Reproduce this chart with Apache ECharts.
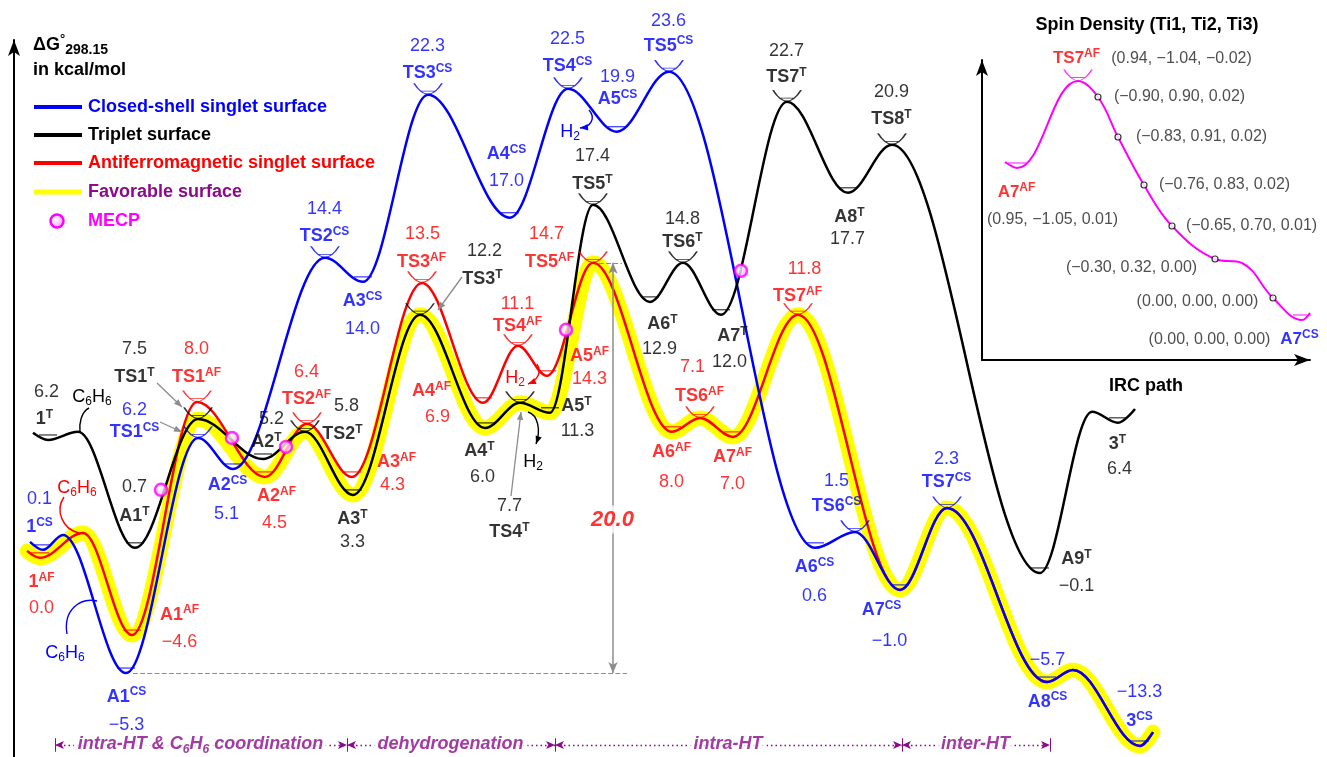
<!DOCTYPE html>
<html>
<head>
<meta charset="utf-8">
<script src="https://cdn.jsdelivr.net/npm/echarts@6/dist/echarts.min.js"></script>
<style>
html, body { margin: 0; padding: 0; background: #fff; }
#chart { width: 1327px; height: 757px; }
</style>
</head>
<body>
<div id="chart"></div>
<script>
var chart = echarts.init(document.getElementById('chart'));

var BLUE = '#0000ff', RED = '#ff0000', BLACK = '#000000', YELLOW = '#ffff00',
    PURPLE = '#8b0a8b', MAGENTA = '#ff00ff', GRAY = '#8c8c8c', DARK = '#222222';
var FONT = '"Liberation Sans", Arial, Helvetica, sans-serif';

// ---- stationary points: position on the reaction coordinate, level as drawn, dG label
// ids starting with '~' are unlabelled bends of a curve
var csId = ['~s', '1', '~b1', 'A1', 'TS1', 'A2', 'TS2', 'A3', 'TS3', 'A4', 'TS4', 'A5', 'TS5', 'A6', 'TS6', 'A7', 'TS7', 'A8', '~b8', '3', '~e'];
var csX = [1.6, 2.9, 4.9, 11.2, 18.4, 21.9, 31.1, 34.9, 41.4, 49.6, 55.4, 60.3, 65.5, 80.1, 84.1, 88.6, 93.3, 103.3, 105.9, 112.6, 113.9];
var csLevel = [0.53, 0.14, 0.87, -5.89, 5.62, 4.10, 14.44, 13.26, 22.42, 16.40, 22.71, 20.61, 23.55, 0.24, 1.02, -1.82, 2.19, -6.33, -5.74, -9.46, -8.78];
var csG = ['', '0.1', '', '\u22125.3', '6.2', '5.1', '14.4', '14.0', '22.3', '17.0', '22.5', '19.9', '23.6', '0.6', '1.5', '\u22121.0', '2.3', '\u22125.7', '', '\u221213.3', ''];

var afId = ['~s', '1', '~b1', 'A1', 'TS1', 'A2', 'TS2', 'A3', 'TS3', 'A4', 'TS4', 'A5', 'TS5', 'A6', 'TS6', 'A7', 'TS7'];
var afX = [1.3, 2.6, 6.9, 11.8, 18.3, 25.1, 29.3, 33.8, 40.8, 46.9, 50.4, 53.3, 57.9, 65.8, 68.6, 71.9, 78.4];
var afLevel = [0.09, -0.25, 0.97, -4.03, 7.38, 3.71, 6.31, 3.71, 13.21, 7.34, 10.13, 8.66, 14.19, 5.92, 6.60, 5.67, 11.65];
var afG = ['', '0.0', '', '\u22124.6', '8.0', '4.5', '6.4', '4.3', '13.5', '6.9', '11.1', '14.3', '14.7', '8.0', '7.1', '7.0', '11.8'];
var afJoinsAt = 'A7';   // the AF curve runs down into A7CS and follows the CS surface from there

var tId = ['~s', '1', '~b1', 'A1', 'TS1', 'A2', 'TS2', 'A3', 'TS3', 'A4', 'TS4', 'A5', 'TS5', 'A6', 'TS6', 'A7', 'TS7', 'A8', 'TS8', 'A9', '~b9', '3', '~e'];
var tX = [1.9, 3.4, 6.4, 12.1, 18.4, 24.9, 29.1, 33.9, 40.6, 47.1, 50.6, 53.6, 57.9, 63.6, 66.9, 70.7, 77.3, 83.4, 87.8, 102.6, 107.8, 110.4, 112.1];
var tLevel = [5.87, 5.52, 5.92, 0.24, 6.55, 4.59, 5.92, 2.83, 11.65, 6.11, 7.34, 6.85, 17.03, 12.28, 14.19, 11.65, 22.08, 17.62, 19.97, -0.99, 6.90, 6.36, 7.04];
var tG = ['', '6.2', '', '0.7', '7.5', '5.2', '5.8', '3.3', '12.2', '6.0', '7.7', '11.3', '17.4', '12.9', '14.8', '12.0', '22.7', '17.7', '20.9', '\u22120.1', '', '6.4', ''];

// favorable surface, as a walk over the points above
var favorable = ['AF:~s', 'AF:1', 'AF:~b1', 'AF:A1', 'T:TS1', 'AF:A2', 'T:TS2', 'T:A3', 'T:TS3', 'T:A4', 'T:TS4', 'T:A5',
                 'AF:TS5', 'AF:A6', 'AF:TS6', 'AF:A7', 'AF:TS7', 'CS:A7', 'CS:TS7', 'CS:A8', 'CS:~b8', 'CS:3', 'CS:~e'];

// minimum energy crossing points
var mecpX = [14.7, 21.8, 27.2, 55.2, 72.7];
var mecpLevel = [3.08, 5.62, 5.18, 10.91, 13.80];

// barrier between A1CS and TS5AF
var barrierX = 59.9;
var barrierText = '20.0';

// phases along the bottom
var phaseBounds = [4.1, 33.3, 54.1, 88.8, 103.6];
var phaseNames = ['intra-HT & C6H6 coordination', 'dehydrogenation', 'intra-HT', 'inter-HT'];

// inset: IRC from A7AF to A7CS with spin densities
var ircId = ['~s', 'A7', 'TS7', 'p1', 'p2', 'p3', 'p4', 'p5', '~sh', 'p6', 'A7', '~e'];
var ircSup = ['', 'AF', 'AF', '', '', '', '', '', '', '', 'CS', ''];
var ircX = [2.3, 3.5, 9.6, 11.6, 13.6, 16.2, 19.0, 23.3, 26.0, 29.1, 32.0, 32.8];
var ircLevel = [19.8, 19.2, 27.9, 26.3, 22.3, 17.5, 13.4, 10.1, 9.7, 6.2, 4.0, 4.7];
var ircSpin = ['', '(0.95, \u22121.05, 0.01)', '(0.94, \u22121.04, \u22120.02)', '(\u22120.90, 0.90, 0.02)',
               '(\u22120.83, 0.91, 0.02)', '(\u22120.76, 0.83, 0.02)', '(\u22120.65, 0.70, 0.01)',
               '(\u22120.30, 0.32, 0.00)', '', '(0.00, 0.00, 0.00)', '(0.00, 0.00, 0.00)', ''];

// ---- label layout (pixel offsets: name dx, dy, value dx, dy)
var labelOffset = {
    'CS:1': [-3, -22, -3, -50], 'CS:A1': [1, 24, 1, 52], 'CS:TS1': [-63, -5, -63, -27], 'CS:A2': [-5, 17, -6, 46],
    'CS:TS2': [0, -21, 0, -48], 'CS:A3': [0, 20, 0, 48], 'CS:TS3': [0, -21, 0, -48], 'CS:A4': [-3, -63, -3, -36],
    'CS:TS4': [0, -22, 0, -49], 'CS:A5': [1, -32, 1, -54], 'CS:TS5': [0, -25, 0, -50], 'CS:A6': [0, 20, 0, 49],
    'CS:TS6': [-18, -25, -18, -50], 'CS:A7': [-18, 21, -10, 52], 'CS:TS7': [0, -25, 0, -48], 'CS:A8': [1, 20, 1, -22],
    'CS:3': [0, -24, 0, -53],
    'AF:1': [2, 25, 2, 51], 'AF:A1': [48, -20, 48, 7], 'AF:TS1': [0, -24, 0, -52], 'AF:A2': [12, 20, 10, 47],
    'AF:TS2': [0, -24, 0, -51], 'AF:A3': [45, -14, 41, 9], 'AF:TS3': [0, -20, 1, -48], 'AF:A4': [-51, -11, -45, 15],
    'AF:TS4': [0, -19, 0, -41], 'AF:A5': [43, -19, 43, 4], 'AF:TS5': [-43, 0, -46, -28], 'AF:A6': [0, 21, 0, 51],
    'AF:TS6': [0, -21, -7, -50], 'AF:A7': [0, 21, 0, 48], 'AF:TS7': [0, -18, 7, -45],
    'T:1': [-3, -20, -1, -47], 'T:A1': [0, -31, 0, -60], 'T:TS1': [-63, -41, -63, -69], 'T:A2': [4, -16, 9, -39],
    'T:TS2': [38, 3, 42, -25], 'T:A3': [0, 25, 0, 48], 'T:TS3': [63, -35, 65, -63], 'T:A4': [-5, 24, -2, 50],
    'T:TS4': [-10, 130, -10, 104], 'T:A5': [27, -6, 28, 19], 'T:TS5': [0, -20, 0, -48], 'T:A6': [13, 23, 10, 48],
    'T:TS6': [0, -20, 0, -43], 'T:A7': [12, 22, 9, 48], 'T:TS7': [0, -24, 0, -50], 'T:A8': [2, 25, 0, 47],
    'T:TS8': [0, -25, 0, -52], 'T:A9': [37, -13, 37, 14], 'T:3': [0, 22, 2, 47]
};
var ircOffset = {
    'A7AF': [0, 25, 36, 52], 'TS7AF': [-1, -22, 104, -22], 'p1': [0, 0, 82, 0], 'p2': [0, 0, 84, 0],
    'p3': [0, 0, 81, 0], 'p4': [0, 0, 80, 0], 'p5': [0, 0, -83, 9], 'p6': [0, 0, -75, 4], 'A7CS': [-2, 20, -92, 20]
};

var surfaces = {
    CS: {sup: 'CS', color: BLUE, id: csId, x: csX, level: csLevel, g: csG},
    AF: {sup: 'AF', color: RED, id: afId, x: afX, level: afLevel, g: afG},
    T: {sup: 'T', color: BLACK, id: tId, x: tX, level: tLevel, g: tG}
};

function pt(key, id) {
    var S = surfaces[key], i = S.id.indexOf(id);
    return [S.x[i], S.level[i]];
}

function curveData(key) {
    var S = surfaces[key];
    var data = S.x.map(function (x, i) { return [x, S.level[i]]; });
    if (key === 'AF') {
        var from = csId.indexOf(afJoinsAt);
        for (var i = from; i < csX.length; i++) data.push([csX[i], csLevel[i]]);
    }
    return data;
}

var BOWL = 'path://M0,0 Q14,22 28,0 M7,8 L21,8';

function markItem(p, isTS, color) {
    if (isTS) {
        return {value: p, symbol: BOWL, symbolSize: [28, 11], symbolOffset: [0, -6],
            itemStyle: {color: 'rgba(0,0,0,0)', borderColor: color, borderWidth: 1.2}};
    }
    return {value: p, symbol: 'rect', symbolSize: [18, 1.2], symbolOffset: [0, -5],
        itemStyle: {color: color, borderWidth: 0}};
}

function nameRich(color, size) {
    return {
        n: {fontFamily: FONT, fontWeight: 'bold', fontSize: size, color: color, lineHeight: 22},
        s: {fontFamily: FONT, fontWeight: 'bold', fontSize: 12, color: color, lineHeight: 14, verticalAlign: 'top'}
    };
}

function labelSeries(points, label, axis) {
    return {
        type: 'scatter', xAxisIndex: axis || 0, yAxisIndex: axis || 0, silent: true, z: 10,
        symbolSize: 1, itemStyle: {color: 'rgba(0,0,0,0)'},
        label: Object.assign({show: true, position: [0, 0], align: 'center', verticalAlign: 'middle',
            textBorderWidth: 0}, label),
        data: points.map(function (p) {
            return {value: [p.x, p.y], label: {formatter: p.text, offset: p.offset}};
        })
    };
}

var series = [];

// favorable surface underlay
series.push({
    type: 'line', silent: true, z: 1, symbol: 'none', smooth: 0.35, smoothMonotone: 'x',
    data: favorable.map(function (k) { var s = k.split(':'); return pt(s[0], s[1]); }),
    lineStyle: {color: YELLOW, width: 15, cap: 'round', join: 'round'}
});

var curveZ = {AF: 3, CS: 3.1, T: 3.2};
['CS', 'AF', 'T'].forEach(function (key) {
    var S = surfaces[key];
    var names = [], values = [], marks = [];
    S.id.forEach(function (id, i) {
        if (id.charAt(0) === '~') return;
        var o = labelOffset[key + ':' + id];
        var p = [S.x[i], S.level[i]];
        names.push({x: p[0], y: p[1], text: '{n|' + id + '}{s|' + S.sup + '}', offset: [o[0], o[1]]});
        values.push({x: p[0], y: p[1], text: S.g[i], offset: [o[2], o[3]]});
        marks.push(markItem(p, id.indexOf('TS') === 0, S.color));
    });
    series.push({
        type: 'line', silent: true, z: curveZ[key], symbol: 'none', smooth: 0.35, smoothMonotone: 'x',
        data: curveData(key),
        lineStyle: {color: S.color, width: 2.5}
    });
    series.push({type: 'scatter', silent: true, z: 5, data: marks});
    series.push(labelSeries(names, {rich: nameRich(S.color, 18)}));
    series.push(labelSeries(values, {fontFamily: FONT, fontSize: 18, color: S.color}));
});

// MECP spheres
var mecpFill = new echarts.graphic.RadialGradient(0.4, 0.4, 0.6, [
    {offset: 0, color: '#ffffff'}, {offset: 1, color: '#ff9cff'}]);
series.push({
    type: 'scatter', silent: true, z: 8, symbol: 'circle', symbolSize: 12,
    data: mecpX.map(function (x, i) { return [x, mecpLevel[i]]; }),
    itemStyle: {color: mecpFill, borderColor: MAGENTA, borderWidth: 2.5}
});

// barrier arrow and dashed reference lines
var a1 = pt('CS', 'A1'), ts5 = pt('AF', 'TS5');
series.push({
    type: 'line', data: [], silent: true, z: 2,
    markLine: {
        silent: true, animation: false, symbol: ['none', 'none'], symbolSize: [7, 11],
        label: {show: false},
        lineStyle: {color: GRAY, width: 1.2, type: 'dashed'},
        data: [
            [{coord: [a1[0] + 0.7, a1[1]]}, {coord: [barrierX + 1.4, a1[1]]}],
            [{coord: [ts5[0] + 0.6, ts5[1]]}, {coord: [barrierX + 0.9, ts5[1]]}],
            [{coord: [barrierX, ts5[1]], symbol: 'arrow', lineStyle: {type: 'solid', width: 1.5, color: GRAY}},
             {coord: [barrierX, a1[1]], symbol: 'arrow'}]
        ]
    }
});
series.push(labelSeries([{x: barrierX, y: 1.6, text: barrierText, offset: [0, 0]}],
    {fontFamily: FONT, fontSize: 22, fontWeight: 'bold', fontStyle: 'italic', color: RED,
     backgroundColor: '#ffffff', padding: [3, 2]}));

// phases
var phaseY = -9.41;
var phaseLines = [];
for (var i = 0; i < phaseNames.length; i++) {
    phaseLines.push([{coord: [phaseBounds[i], phaseY], symbol: 'arrow'}, {coord: [phaseBounds[i + 1], phaseY], symbol: 'arrow'}]);
}
phaseBounds.forEach(function (b) {
    phaseLines.push([{coord: [b, phaseY + 0.33], symbol: 'none', lineStyle: {type: 'solid', width: 1}},
                     {coord: [b, phaseY - 0.33], symbol: 'none'}]);
});
series.push({
    type: 'line', data: [], silent: true, z: 2,
    markLine: {
        silent: true, animation: false, symbolSize: [6, 9], label: {show: false},
        lineStyle: {color: PURPLE, width: 1.4, type: [1.5, 3]},
        data: phaseLines
    }
});
series.push(labelSeries(phaseNames.map(function (t, i) {
    return {x: (phaseBounds[i] + phaseBounds[i + 1]) / 2, y: phaseY,
        text: '{p|' + t.replace(/([CH])(\d)/g, '$1}{q|$2}{p|') + '}', offset: [0, 0]};
}), {backgroundColor: '#ffffff', padding: [0, 4], rich: {
    p: {fontFamily: FONT, fontSize: 18, fontWeight: 'bold', fontStyle: 'italic', color: PURPLE, lineHeight: 22},
    q: {fontFamily: FONT, fontSize: 12, fontWeight: 'bold', fontStyle: 'italic', color: PURPLE, lineHeight: 12, verticalAlign: 'bottom'}
}}));

// inset curve
var ircMarks = [], ircNames = [], ircSpins = [];
ircId.forEach(function (id, i) {
    if (id.charAt(0) === '~') return;
    var p = [ircX[i], ircLevel[i]];
    var o = ircOffset[id + ircSup[i]];
    if (id.charAt(0) === 'p') {
        ircMarks.push({value: p, symbol: 'circle', symbolSize: 6,
            itemStyle: {color: '#ffffff', borderColor: BLACK, borderWidth: 1.2}});
    } else {
        ircMarks.push(markItem(p, id.indexOf('TS') === 0, MAGENTA));
        ircNames.push({x: p[0], y: p[1], text: '{n|' + id + '}{s|' + ircSup[i] + '}', offset: [o[0], o[1]], sup: ircSup[i]});
    }
    if (ircSpin[i]) ircSpins.push({x: p[0], y: p[1], text: ircSpin[i], offset: [o[2], o[3]]});
});
series.push({
    type: 'line', xAxisIndex: 1, yAxisIndex: 1, silent: true, z: 3, symbol: 'none', smooth: 0.4,
    data: ircX.map(function (x, i) { return [x, ircLevel[i]]; }),
    lineStyle: {color: MAGENTA, width: 2}
});
series.push({type: 'scatter', xAxisIndex: 1, yAxisIndex: 1, silent: true, z: 5, data: ircMarks});
series.push(labelSeries(ircNames.filter(function (p) { return p.sup === 'AF'; }), {rich: nameRich(RED, 17)}, 1));
series.push(labelSeries(ircNames.filter(function (p) { return p.sup === 'CS'; }), {rich: nameRich(BLUE, 17)}, 1));
series.push(labelSeries(ircSpins, {fontFamily: FONT, fontSize: 16, color: DARK}, 1));

// ---- annotations drawn on top
function txt(x, y, text, style, align, rich) {
    var st = Object.assign({text: text, align: align || 'left', verticalAlign: 'middle',
        textAlign: align || 'left', textVerticalAlign: 'middle', fontFamily: FONT}, style);
    if (rich) st.rich = rich;
    return {type: 'text', x: x, y: y, z: 100, silent: true, style: st};
}
function head(x, y, ang, color) {
    var L = 8, W = 3.2;
    var bx = x - L * Math.cos(ang), by = y - L * Math.sin(ang);
    var px = -Math.sin(ang) * W, py = Math.cos(ang) * W;
    return {type: 'polygon', z: 100, silent: true, shape: {points: [[x, y], [bx + px, by + py], [bx - px, by - py]]}, style: {fill: color}};
}
function straightArrow(x1, y1, x2, y2, color) {
    return [
        {type: 'line', z: 100, silent: true, shape: {x1: x1, y1: y1, x2: x2, y2: y2}, style: {stroke: color, lineWidth: 1.3}},
        head(x2, y2, Math.atan2(y2 - y1, x2 - x1), color)
    ];
}
function curve(c, color, withHead) {
    var out = [{type: 'bezierCurve', z: 100, silent: true,
        shape: {x1: c[0], y1: c[1], cpx1: c[2], cpy1: c[3], cpx2: c[4], cpy2: c[5], x2: c[6], y2: c[7]},
        style: {stroke: color, lineWidth: 1.4, fill: null}}];
    if (withHead) out.push(head(c[6], c[7], Math.atan2(c[7] - c[5], c[6] - c[4]), color));
    return out;
}
function formulaRich(color) {
    return {
        t: {fontFamily: FONT, fontSize: 18, fill: color, lineHeight: 22},
        d: {fontFamily: FONT, fontSize: 12, fill: color, lineHeight: 12, verticalAlign: 'bottom'}
    };
}

var graphics = [];
graphics.push(txt(33, 45, '{b|\u0394G}{o|\u00b0}{u|298.15}', {}, 'left', {
    b: {fontFamily: FONT, fontWeight: 'bold', fontSize: 18, fill: BLACK, lineHeight: 24},
    o: {fontFamily: FONT, fontWeight: 'bold', fontSize: 13, fill: BLACK, lineHeight: 12, verticalAlign: 'top'},
    u: {fontFamily: FONT, fontWeight: 'bold', fontSize: 14, fill: BLACK, lineHeight: 14, verticalAlign: 'bottom'}
}));
graphics.push(txt(33, 70, 'in kcal/mol', {fontWeight: 'bold', fontSize: 18, fill: BLACK}));

var legendRows = [
    ['Closed-shell singlet surface', BLUE, BLUE, 107],
    ['Triplet surface', BLACK, BLACK, 135],
    ['Antiferromagnetic singlet surface', RED, RED, 163],
    ['Favorable surface', YELLOW, PURPLE, 192]
];
legendRows.forEach(function (r) {
    graphics.push({type: 'line', z: 100, silent: true, shape: {x1: 34, y1: r[3], x2: 82, y2: r[3]},
        style: {stroke: r[1], lineWidth: r[1] === YELLOW ? 5 : 4}});
    graphics.push(txt(88, r[3], r[0], {fontWeight: 'bold', fontSize: 18, fill: r[2]}));
});
graphics.push({type: 'circle', z: 100, silent: true, shape: {cx: 57, cy: 221, r: 6.5},
    style: {fill: mecpFill, stroke: MAGENTA, lineWidth: 2.5}});
graphics.push(txt(88, 221, 'MECP', {fontWeight: 'bold', fontSize: 18, fill: MAGENTA}));

graphics.push(txt(1147, 25, 'Spin Density (Ti1, Ti2, Ti3)', {fontWeight: 'bold', fontSize: 18, fill: BLACK}, 'center'));

// C6H6 and H2 notes
graphics.push(txt(92, 397, '{t|C}{d|6}{t|H}{d|6}', {}, 'center', formulaRich(BLACK)));
graphics.push(txt(77, 488, '{t|C}{d|6}{t|H}{d|6}', {}, 'center', formulaRich(RED)));
graphics.push(txt(65, 653, '{t|C}{d|6}{t|H}{d|6}', {}, 'center', formulaRich(BLUE)));
graphics.push(txt(570, 132, '{t|H}{d|2}', {}, 'center', formulaRich(BLUE)));
graphics.push(txt(515, 378, '{t|H}{d|2}', {}, 'center', formulaRich(RED)));
graphics.push(txt(533, 462, '{t|H}{d|2}', {}, 'center', formulaRich(BLACK)));
graphics = graphics
    .concat(curve([89, 408, 81, 412, 79, 424, 80, 432], BLACK, false))
    .concat(curve([64, 497, 55, 510, 62, 529, 79, 533], RED, false))
    .concat(curve([67, 634, 63, 610, 80, 597, 97, 601], BLUE, false))
    .concat(curve([589, 110, 596, 118, 591, 127, 580, 128], BLUE, true))
    .concat(curve([537, 364, 542, 372, 538, 380, 528, 384], RED, true))
    .concat(curve([528, 412, 538, 415, 541, 430, 536, 444], BLACK, true))
    .concat(straightArrow(157, 383, 182, 407, GRAY))
    .concat(straightArrow(160, 422, 182, 432, GRAY))
    .concat(straightArrow(462, 277, 438, 310, GRAY))
    .concat(straightArrow(511, 496, 521, 412, GRAY));

var plainAxis = {axisTick: {show: false}, axisLabel: {show: false}, splitLine: {show: false}};
var arrowLine = {show: true, onZero: false, symbol: ['none', 'arrow'], symbolSize: [9, 16], lineStyle: {color: BLACK, width: 2}};

var option = {
    animation: false,
    backgroundColor: '#ffffff',
    grid: [
        {left: 14, right: 0, top: 40, bottom: 0, outerBoundsMode: 'none'},
        {left: 982, top: 60, width: 328, height: 300, outerBoundsMode: 'none'}
    ],
    xAxis: [
        Object.assign({gridIndex: 0, type: 'value', min: 0, max: 131.3, show: false}, plainAxis),
        Object.assign({gridIndex: 1, type: 'value', min: 0, max: 32.8, axisLine: arrowLine,
            name: 'IRC path', nameLocation: 'middle', nameGap: 17,
            nameTextStyle: {fontFamily: FONT, fontWeight: 'bold', fontSize: 18, color: BLACK}}, plainAxis)
    ],
    yAxis: [
        Object.assign({gridIndex: 0, type: 'value', min: -10, max: 25.1, axisLine: arrowLine}, plainAxis),
        Object.assign({gridIndex: 1, type: 'value', min: 0, max: 30, axisLine: arrowLine}, plainAxis)
    ],
    series: series,
    graphic: graphics
};
chart.setOption(option);
window.onresize = chart.resize;
</script>
</body>
</html>
